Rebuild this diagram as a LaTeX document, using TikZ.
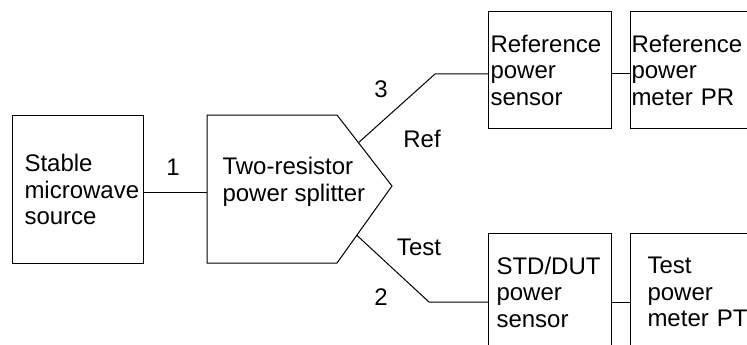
\documentclass[tikz,border=0pt]{standalone}
\usepackage{fontspec}
\setmainfont{Liberation Sans}
\usetikzlibrary{calc}

\begin{document}
\begin{tikzpicture}[x=1pt,y=-1pt,line width=1pt,
  blk/.style={draw,align=left,anchor=north west,minimum height=117pt,
    font=\fontsize{24}{26.5}\selectfont},
  lbl/.style={anchor=base,inner sep=0pt,font=\fontsize{24}{26.5}\selectfont}]
  % Frame
  \useasboundingbox (0,0) rectangle (747,345);
  \clip (0,0) rectangle (747,345);
  %
  % Source
  \node[blk,minimum height=148pt,text width=107pt,inner xsep=12pt] (src)
    at (12,115) {Stable\\microwave\\source};
  %
  % Splitter outline
  \coordinate (sp-nw) at (207,115);
  \coordinate (sp-ne) at (337,115);
  \coordinate (sp-tip) at (392,186);
  \coordinate (sp-se) at (337,263);
  \coordinate (sp-sw) at (207,263);
  \draw (sp-nw) -- (sp-ne) -- (sp-tip) -- (sp-se) -- (sp-sw) -- cycle;
  \node[anchor=west,inner sep=0pt,align=left,
    font=\fontsize{24}{26.5}\selectfont] (split) at (222,182)
    {Two-resistor\\power splitter};
  %
  % Sensors and meters
  \node[blk,text width=119pt,inner xsep=2pt] (refsens) at (488,11)
    {Reference\\power\\sensor};
  \node[blk,text width=121pt,inner xsep=1pt] (refmeter) at (630,11)
    {Reference\\power\\meter PR};
  \node[blk,text width=107pt,inner xsep=8pt] (stdsens) at (488,233)
    {STD/DUT\\power\\sensor};
  \node[blk,text width=104pt,inner xsep=17pt] (tstmeter) at (630,233)
    {Test\\power\\meter PT};
  %
  % Ports
  \coordinate (p3) at ($(sp-ne)!0.39!(sp-tip)$);
  \coordinate (p2) at ($(sp-tip)!0.64!(sp-se)$);
  \coordinate (k3) at (435,74);
  \coordinate (k2) at (429,302);
  %
  % Connecting lines
  \draw ([yshift=-3pt]src.east) -- ([yshift=-3pt]src.east -| sp-nw);
  \draw (p3) -- (k3) -- (refsens.west |- k3);
  \draw (refsens.east |- k3) -- (refmeter.west |- k3);
  \draw (p2) -- (k2) -- (stdsens.west |- k2);
  \draw (stdsens.east |- k2) -- (tstmeter.west |- k2);
  %
  % Labels
  \node[lbl] (n1) at (173,175) {1};
  \node[lbl] (n3) at (381,97) {3};
  \node[lbl] (nref) at (422,147) {Ref};
  \node[lbl] (ntest) at (419,255) {Test};
  \node[lbl] (n2) at (381,305) {2};
  %
\end{tikzpicture}
\end{document}
